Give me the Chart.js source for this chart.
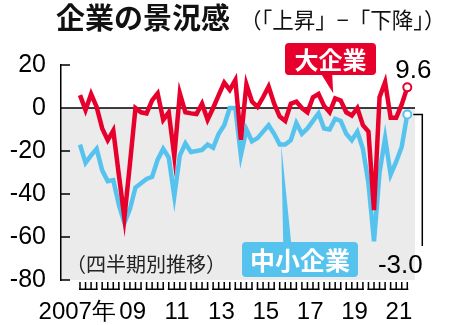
<!DOCTYPE html>
<html lang="ja">
<head>
<meta charset="utf-8">
<title>企業の景況感</title>
<script src="https://cdn.jsdelivr.net/npm/chart.js@4.4.0/dist/chart.umd.min.js"></script>
<style>
  html, body { margin: 0; padding: 0; background: #fff; }
  canvas { display: block; }
</style>
</head>
<body>
<canvas id="grafico" width="450" height="325"></canvas>
<script>
// BSI 「上昇」-「下降」 quarterly, 2007 Q1 .. 2021 Q4
var years = [2007, 2008, 2009, 2010, 2011, 2012, 2013, 2014, 2015, 2016, 2017, 2018, 2019, 2020, 2021]
var tickYears = [2007, 2009, 2011, 2013, 2015, 2017, 2019, 2021]
var tickLabels = ['2007年', '09', '11', '13', '15', '17', '19', '21']
var yTicks = [20, 0, -20, -40, -60, -80]

// 大企業
var large = [
  6, -1, 6.5, 0.5,  -9.5, -15, -10.5, -31,  -51, -26, 0, -2,
  -2.5, 3.5, 6.8, -5.5,  -2, -22.5, 6.8, -2,  -2.5, -2.8, 2, -5.5,
  0, 6, 11.8, 8.4,  13, -14.8, 11, 3,  0.5, 5, 10, 2,
  -4, -6, 2, 3,  0, -2, 5, 6.5,  1, -2, 4.5, 3.5,
  -2, -3.5, 0, -8,  -11, -47.5, 5, 12,  -4.5, -4.5, 1.7, 9.6
]
// 中小企業
var small = [
  -17, -25.5, -22, -19,  -29, -34, -33.5, -45,  -53.5, -47, -37, -35,
  -33, -32, -24, -19,  -23, -41, -22, -16.5,  -20.5, -20, -19.5, -17,
  -18.5, -12, -8, 0,  0, -22, -10, -15.5,  -14, -11, -8, -12,
  -17, -17, -15, -7,  -12, -9.5, -6, -2.5,  -9.5, -10, -5, -6,
  -12, -15, -11, -19,  -35, -62, -30, -14,  -31, -25, -18, -3
]

const RED = '#e8002d'
const BLUE = '#56c3ef'
const JP = "'Noto Sans CJK JP', sans-serif"
const NUM = "'Liberation Sans', Arial, sans-serif"

var quarters = []
years.forEach(yr => { for (var q = 1; q <= 4; q++) quarters.push(yr + '-Q' + q) })

const toPoints = arr => arr.map((v, i) => ({ x: i, y: v }))
const lastOnly = (arr, r) => arr.map((v, i) => i === arr.length - 1 ? r : 0)

// gray band below zero, drawn before the axes
const fondo = {
  id: 'fondo',
  beforeDraw(chart) {
    const { ctx, chartArea: a, scales } = chart
    const y0 = scales.y.getPixelForValue(0)
    ctx.save()
    ctx.fillStyle = '#ebebeb'
    ctx.fillRect(a.left, y0, a.right - a.left, a.bottom - y0)
    ctx.restore()
  },
  beforeDatasetsDraw(chart) {
    const { ctx, chartArea: a, scales } = chart
    const ys = scales.y
    const y0 = ys.getPixelForValue(0)
    ctx.save()
    ctx.strokeStyle = '#000'
    ctx.lineWidth = 1.5
    ctx.beginPath()
    ctx.moveTo(a.left, y0)
    ctx.lineTo(a.right, y0)
    // y ticks point into the plot
    ys.ticks.forEach(t => {
      const py = ys.getPixelForValue(t.value)
      ctx.moveTo(a.left, py)
      ctx.lineTo(a.left + 9, py)
    })
    ctx.stroke()
    ctx.restore()
  }
}

const roundBox = (ctx, x, y, w, h, r) => {
  ctx.beginPath()
  ctx.moveTo(x + r, y)
  ctx.arcTo(x + w, y, x + w, y + h, r)
  ctx.arcTo(x + w, y + h, x, y + h, r)
  ctx.arcTo(x, y + h, x, y, r)
  ctx.arcTo(x, y, x + w, y, r)
  ctx.closePath()
}

// quarter combs, title, callouts and end values
const rotulos = {
  id: 'rotulos',
  afterDatasetsDraw(chart) {
    const { ctx, chartArea: a, scales } = chart
    const xs = scales.x, ys = scales.y
    ctx.save()

    // one comb per year, a tooth per quarter
    const combTop = a.bottom + 2, combBot = a.bottom + 10
    ctx.fillStyle = '#000'
    for (var k = 0; k < years.length; k++) {
      const xa = xs.getPixelForValue(k * 4), xb = xs.getPixelForValue(k * 4 + 3)
      ctx.fillRect(xa - 1, combBot - 1.5, xb - xa + 2, 1.5)
      for (var q = 0; q < 4; q++) {
        const px = xs.getPixelForValue(k * 4 + q)
        ctx.fillRect(px - 0.75, combTop, 1.5, combBot - combTop)
      }
    }

    ctx.fillStyle = '#111'
    ctx.textBaseline = 'alphabetic'
    ctx.font = 'bold 29px ' + JP
    ctx.fillText('企業の景況感', 56, 29)
    ctx.font = '21.5px ' + JP
    ctx.fillText('（「上昇」−「下降」）', 240, 28)

    ctx.font = '20px ' + JP
    ctx.fillStyle = '#222'
    ctx.textBaseline = 'middle'
    ctx.fillText('（四半期別推移）', 66, 264)

    // 大企業 callout
    const n = large.length - 1
    const tipX = xs.getPixelForValue(46) - 2, tipY = ys.getPixelForValue(large[46]) - 5
    ctx.fillStyle = RED
    roundBox(ctx, 285, 43, 91, 32, 4)
    ctx.fill()
    ctx.beginPath()
    ctx.moveTo(tipX - 12, 74)
    ctx.lineTo(tipX - 1, 74)
    ctx.lineTo(tipX, tipY)
    ctx.closePath()
    ctx.fill()
    ctx.fillStyle = '#fff'
    ctx.textAlign = 'center'
    ctx.font = 'bold 24px ' + JP
    ctx.fillText('大企業', 330.5, 59.5)

    // 中小企業 callout
    const bx = xs.getPixelForValue(36) + 1.5, by = ys.getPixelForValue(small[36])
    ctx.fillStyle = BLUE
    roundBox(ctx, 242, 242, 116, 35, 4)
    ctx.fill()
    ctx.beginPath()
    ctx.moveTo(bx, by)
    ctx.lineTo(bx + 10, 243)
    ctx.lineTo(bx + 2, 243)
    ctx.closePath()
    ctx.fill()
    ctx.fillStyle = '#fff'
    ctx.font = 'bold 25px ' + JP
    ctx.fillText('中小企業', 300, 260)

    // end values
    const ex = xs.getPixelForValue(n)
    const ly = ys.getPixelForValue(large[n]), sy = ys.getPixelForValue(small[n])
    ctx.fillStyle = '#000'
    ctx.textBaseline = 'alphabetic'
    ctx.font = '26px ' + NUM
    ctx.fillText(large[n].toFixed(1), ex + 6, ly - 9)
    ctx.fillText(small[n].toFixed(1), ex - 7, 273)

    ctx.strokeStyle = '#000'
    ctx.lineWidth = 1.5
    ctx.beginPath()
    ctx.moveTo(ex + 6, sy)
    ctx.lineTo(ex + 15, sy)
    ctx.lineTo(ex + 15, 246)
    ctx.stroke()

    ctx.restore()
  }
}

new Chart(document.getElementById('grafico'), {
  type: 'line',
  data: {
    labels: quarters,
    datasets: [{
      label: '大企業',
      data: toPoints(large),
      borderColor: RED,
      borderWidth: 4.5,
      pointRadius: lastOnly(large, 4),
      pointBackgroundColor: '#fff',
      pointBorderColor: RED,
      pointBorderWidth: 2,
      tension: 0
    }, {
      label: '中小企業',
      data: toPoints(small),
      borderColor: BLUE,
      borderWidth: 4.5,
      pointRadius: lastOnly(small, 4),
      pointBackgroundColor: '#fff',
      pointBorderColor: BLUE,
      pointBorderWidth: 2,
      tension: 0
    }]
  },
  options: {
    responsive: false,
    animation: false,
    layout: { padding: { left: 0, right: 35, top: 65, bottom: 0 } },
    plugins: { legend: { display: false }, tooltip: { enabled: false } },
    scales: {
      x: {
        type: 'linear',
        min: -3.425,
        max: 60.39,
        grid: { display: false },
        border: { display: false },
        // labels sit under the middle of each two-year comb; the first one leans left
        afterBuildTicks: s => {
          s.ticks = tickYears.map((yr, i) => ({ value: (yr - years[0]) * 4 + (i === 0 ? -0.5 : 1.5) }))
        },
        ticks: {
          autoSkip: false,
          maxRotation: 0,
          padding: 10,
          color: '#000',
          font: { family: NUM, size: 24 },
          callback: (v, i) => tickLabels[i]
        },
        afterFit: s => { s.height = 45 }
      },
      y: {
        min: -80,
        max: 20,
        grid: { display: false },
        border: { display: true, color: '#000', width: 1.5 },
        afterBuildTicks: s => { s.ticks = yTicks.map(v => ({ value: v })) },
        ticks: {
          padding: 7,
          color: '#000',
          font: { family: NUM, size: 25 }
        },
        afterFit: s => { s.width = 61 }
      }
    }
  },
  plugins: [fondo, rotulos]
})
</script>
</body>
</html>
